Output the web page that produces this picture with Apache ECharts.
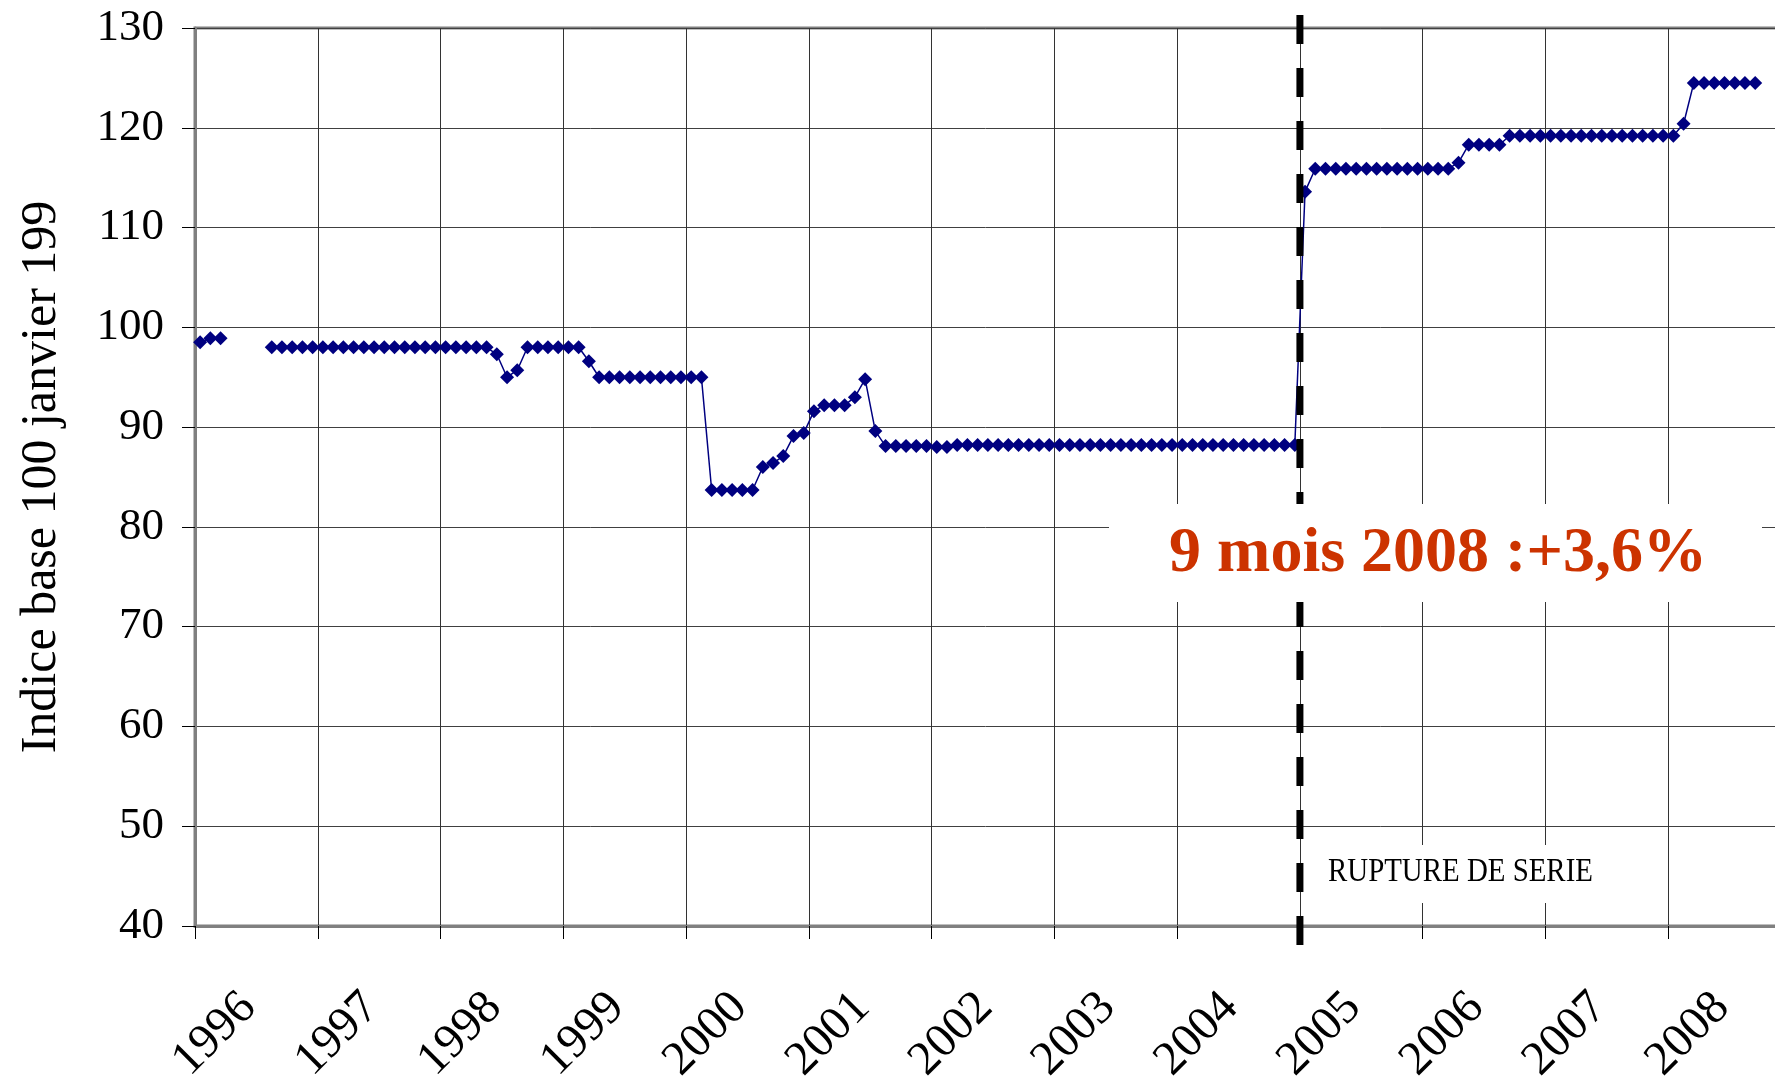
<!DOCTYPE html>
<html>
<head>
<meta charset="utf-8">
<script src="https://cdn.jsdelivr.net/npm/echarts@6/dist/echarts.min.js"></script>
<style>
  html, body { margin: 0; padding: 0; background: #fff; }
  #chart { width: 1775px; height: 1082px; }
</style>
</head>
<body>
<div id="chart"></div>
<script>
// year tick labels (one tick every 12 months)
var years = ["1996", "1997", "1998", "1999", "2000", "2001", "2002",
  "2003", "2004", "2005", "2006", "2007", "2008"];

// monthly index values, Jan -> Dec (null = no value)
var v1996 = [98.5, 98.9, 98.9, null, null, null, null, 98, 98, 98, 98, 98];
var v1997 = [98, 98, 98, 98, 98, 98, 98, 98, 98, 98, 98, 98];
var v1998 = [98, 98, 98, 98, 98, 97.3, 95.0, 95.7, 98, 98, 98, 98];
var v1999 = [98, 98, 96.6, 95.0, 95, 95, 95, 95, 95, 95, 95, 95];
var v2000 = [95, 95, 83.7, 83.7, 83.7, 83.7, 83.7, 86.0, 86.4, 87.1, 89.1, 89.4];
var v2001 = [91.6, 92.2, 92.2, 92.2, 93.0, 94.8, 89.6, 88.1, 88.1, 88.1, 88.1, 88.1];
var v2002 = [88.0, 88.0, 88.2, 88.2, 88.2, 88.2, 88.2, 88.2, 88.2, 88.2, 88.2, 88.2];
var v2003 = [88.2, 88.2, 88.2, 88.2, 88.2, 88.2, 88.2, 88.2, 88.2, 88.2, 88.2, 88.2];
var v2004 = [88.2, 88.2, 88.2, 88.2, 88.2, 88.2, 88.2, 88.2, 88.2, 88.2, 88.2, 88.2];
var v2005 = [113.6, 115.9, 115.9, 115.9, 115.9, 115.9, 115.9, 115.9, 115.9, 115.9, 115.9, 115.9];
var v2006 = [115.9, 115.9, 115.9, 116.5, 118.3, 118.3, 118.3, 118.3, 119.2, 119.2, 119.2, 119.2];
var v2007 = [119.2, 119.2, 119.2, 119.2, 119.2, 119.2, 119.2, 119.2, 119.2, 119.2, 119.2, 119.2];
var v2008 = [119.2, 120.4, 124.5, 124.5, 124.5, 124.5, 124.5, 124.5, 124.5];

// series break: January 2005 (months since Jan 1996)
var ruptureMonth = 108;
var ruptureText = "RUPTURE DE SERIE";
var noteText = "9 mois 2008 :+3,6%";
var yTitle = "Indice base 100 janvier 199";

var monthly = [].concat(v1996, v1997, v1998, v1999, v2000, v2001, v2002,
  v2003, v2004, v2005, v2006, v2007, v2008);
var points = monthly.map(function (v, i) {
  return [i + 0.5, v == null ? "-" : v];
});

var serif = "Liberation Serif";
var chart = echarts.init(document.getElementById("chart"));
chart.setOption({
  animation: false,
  backgroundColor: "#fff",
  grid: {
    left: 195, top: 28, width: 1596, height: 898,
    outerBoundsMode: "none",
    show: true, borderColor: "#808080", borderWidth: 3
  },
  xAxis: {
    type: "value",
    min: 0,
    max: 156,
    interval: 12,
    axisLine: { show: true, lineStyle: { color: "#808080", width: 3 } },
    axisTick: { show: true, length: 13, lineStyle: { color: "#000", width: 1 } },
    splitLine: { show: true, lineStyle: { color: "#333", width: 1 } },
    axisLabel: {
      rotate: 45,
      align: "center",
      verticalAlign: "middle",
      margin: 128,
      padding: [0, 0, 0, 56],
      fontFamily: serif,
      fontSize: 48,
      color: "#000",
      showMaxLabel: false,
      formatter: function (v) {
        return years[v / 12] || "";
      }
    }
  },
  yAxis: {
    type: "value",
    min: 40,
    max: 130,
    interval: 10,
    name: yTitle,
    nameLocation: "middle",
    nameGap: 128,
    nameTextStyle: { fontFamily: serif, fontSize: 50, color: "#000" },
    axisLine: { show: true, lineStyle: { color: "#808080", width: 3 } },
    axisTick: { show: true, length: 13, lineStyle: { color: "#000", width: 1 } },
    splitLine: { show: true, lineStyle: { color: "#404040", width: 1 } },
    axisLabel: { fontFamily: serif, fontSize: 45, color: "#000", margin: 31 }
  },
  series: [
    {
      type: "line",
      data: points,
      connectNulls: false,
      symbol: "diamond",
      symbolSize: 14,
      showAllSymbol: true,
      itemStyle: { color: "#000080" },
      lineStyle: { color: "#000080", width: 1.5 }
    }
  ]
});

// break line + text boxes, placed from the axis scale
var px = chart.convertToPixel({ xAxisIndex: 0 }, ruptureMonth);
chart.setOption({
  graphic: [
    {
      type: "line", z: 10,
      shape: { x1: px, y1: 15, x2: px, y2: 945 },
      style: { stroke: "#000", lineWidth: 7, lineDash: [29, 24] }
    },
    {
      type: "rect", z: 11,
      shape: { x: 1109, y: 504, width: 653, height: 98 },
      style: { fill: "#fff" }
    },
    {
      type: "text", z: 12, x: 1438, y: 554,
      style: {
        text: noteText, fill: "#cc3300", fontFamily: serif, fontWeight: "bold",
        fontSize: 64, align: "center", verticalAlign: "middle"
      }
    },
    {
      type: "rect", z: 11,
      shape: { x: 1312, y: 845, width: 298, height: 58 },
      style: { fill: "#fff" }
    },
    {
      type: "text", z: 12, x: 1328, y: 872, scaleX: 0.85,
      style: {
        text: ruptureText, fill: "#000", fontFamily: serif,
        fontSize: 34, align: "left", verticalAlign: "middle"
      }
    }
  ]
});
</script>
</body>
</html>
